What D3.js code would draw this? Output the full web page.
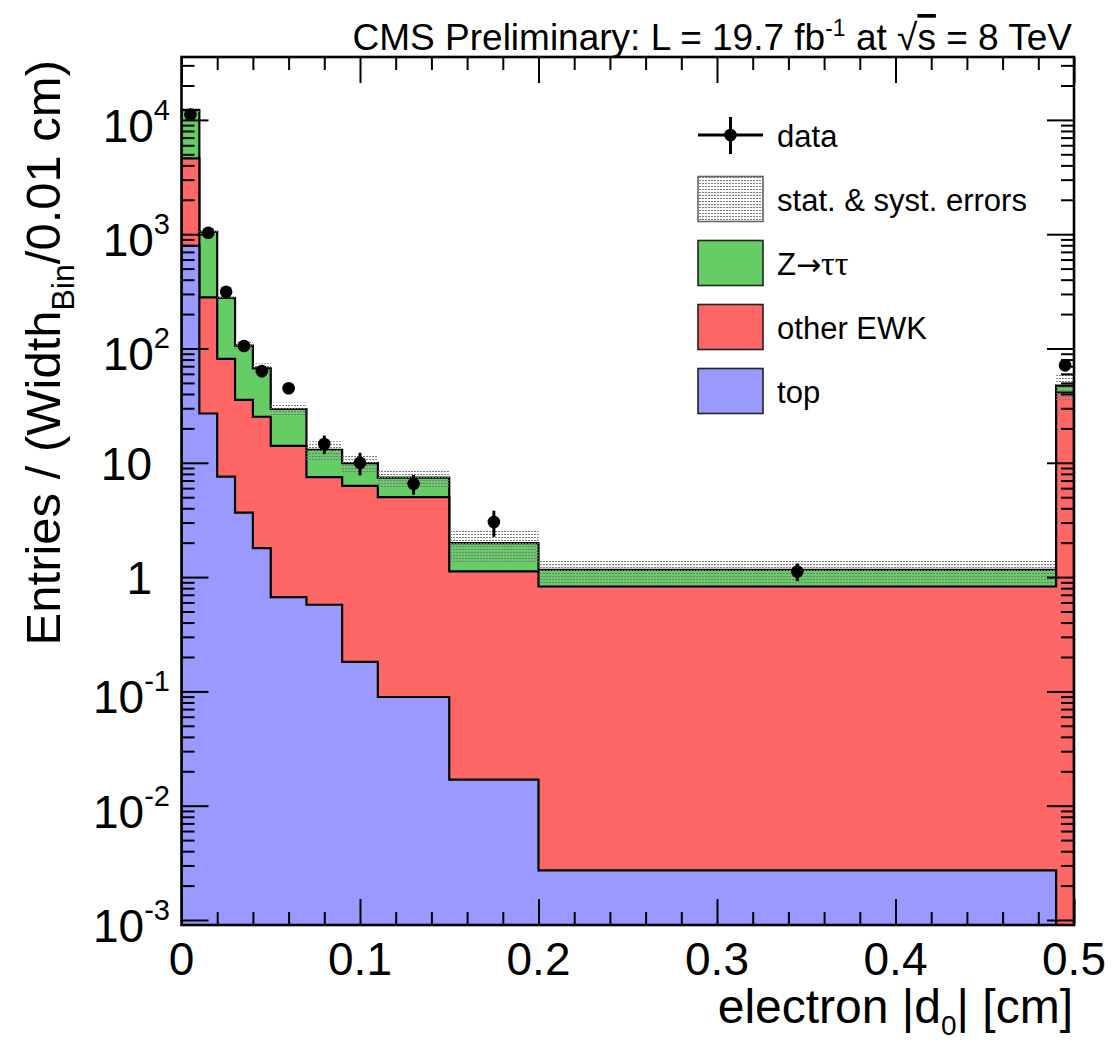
<!DOCTYPE html>
<html>
<head>
<meta charset="utf-8">
<script src="https://cdn.jsdelivr.net/npm/d3@7"></script>
<style>
  html, body { margin: 0; padding: 0; background: #fff; }
  svg { display: block; font-family: "Liberation Sans", Arial, Helvetica, sans-serif; }
</style>
</head>
<body>
<svg id="chart" width="1113" height="1043"></svg>
<script>
// Bin edges of the |d0| histogram (cm)
const binEdges = [0, 0.01, 0.02, 0.03, 0.04, 0.05, 0.07, 0.09, 0.11, 0.15, 0.2, 0.49, 0.5];

// Expected contributions per bin, entries / (bin width / 0.01 cm)
const topBkg   = [792, 27, 7.57, 3.67, 1.79, 0.668, 0.573, 0.181, 0.0893, 0.0169, 0.00272, 0];
const otherEWK = [3808, 253, 73.4, 31.8, 23.5, 13.39, 6.91, 6.10, 4.91, 1.103, 0.825, 41.1];
const zTauTau  = [7560, 770, 196, 70.5, 41.7, 15.5, 5.52, 3.64, 2.43, 0.86, 0.33, 6.2];

// Total uncertainty on the expectation (stat. & syst.)
const bkgError = [450, 40, 12, 8, 7, 4, 2.4, 1.7, 1.36, 0.65, 0.28, 12.5];

// Observed data and its uncertainty
const dataValues = [11150, 1030, 314, 105, 63.6, 44.9, 14.6, 10.0, 6.54, 3.03, 1.12, 71.3];
const dataErr    = [105, 32, 18, 10, 8, 4.7, 2.7, 2.24, 1.28, 0.78, 0.197, 8.4];

// Axis ticks
const xTickValues = [0, 0.1, 0.2, 0.3, 0.4, 0.5];
const xTickLabels = ["0", "0.1", "0.2", "0.3", "0.4", "0.5"];
const yTickValues = [1e-3, 1e-2, 1e-1, 1, 10, 100, 1000, 10000];
const yTickLabels = ["10^{-3}", "10^{-2}", "10^{-1}", "1", "10", "10^{2}", "10^{3}", "10^{4}"];

const seriesKeys   = ["top", "ewk", "ztt"];
const seriesNames  = { top: "top", ewk: "other EWK", ztt: "Z\u2192\u03c4\u03c4" };
const seriesColors = { top: "#9999ff", ewk: "#ff6666", ztt: "#66cc66" };

// ---------------------------------------------------------------------------
const svg = d3.select("#chart");
const plot = { x0: 181.5, x1: 1074, y0: 57, y1: 925 };

const x = d3.scaleLinear().domain([0, 0.5]).range([plot.x0, plot.x1]);
const y = d3.scaleLog().domain([9.04e-4, 35500]).range([plot.y1, plot.y0]).clamp(true);
const yv = v => (v > 0 ? y(v) : plot.y1);

const defs = svg.append("defs");
defs.append("clipPath").attr("id", "plotClip")
  .append("rect")
  .attr("x", plot.x0).attr("y", plot.y0)
  .attr("width", plot.x1 - plot.x0).attr("height", plot.y1 - plot.y0);

const dots = defs.append("pattern").attr("id", "dots")
  .attr("patternUnits", "userSpaceOnUse").attr("width", 3).attr("height", 3);
dots.append("rect").attr("x", 0).attr("y", 0).attr("width", 2).attr("height", 1).attr("fill", "#7a7a7a");

// Stacked expectation
const rows = binEdges.slice(0, -1).map((e, i) => ({ top: topBkg[i], ewk: otherEWK[i], ztt: zTauTau[i] }));
const stacked = d3.stack().keys(seriesKeys)(rows);
const nb = rows.length;

const line = d3.line();
function stepPath(series) {
  const pts = [[x(binEdges[0]), plot.y1]];
  series.forEach((d, i) => {
    const yy = yv(d[1]);
    pts.push([x(binEdges[i]), yy], [x(binEdges[i + 1]), yy]);
  });
  pts.push([x(binEdges[nb]), plot.y1]);
  return line(pts) + "Z";
}

const gPlot = svg.append("g").attr("clip-path", "url(#plotClip)");
stacked.slice().reverse().forEach(s => {
  gPlot.append("path")
    .attr("d", stepPath(s))
    .attr("fill", seriesColors[s.key])
    .attr("stroke", "#000")
    .attr("stroke-width", 2.2)
    .attr("stroke-linejoin", "miter");
});

// Uncertainty band around the total
const totals = stacked[stacked.length - 1].map(d => d[1]);
gPlot.selectAll("rect.band").data(totals).join("rect")
  .attr("class", "band")
  .attr("x", (d, i) => x(binEdges[i]))
  .attr("width", (d, i) => x(binEdges[i + 1]) - x(binEdges[i]))
  .attr("y", (d, i) => yv(d + bkgError[i]))
  .attr("height", (d, i) => yv(d - bkgError[i]) - yv(d + bkgError[i]))
  .attr("fill", "url(#dots)");

// Data points
const centers = binEdges.slice(0, -1).map((e, i) => (e + binEdges[i + 1]) / 2);
gPlot.selectAll("line.err").data(dataValues).join("line")
  .attr("class", "err")
  .attr("x1", (d, i) => x(centers[i])).attr("x2", (d, i) => x(centers[i]))
  .attr("y1", (d, i) => yv(d + dataErr[i])).attr("y2", (d, i) => yv(d - dataErr[i]))
  .attr("stroke", "#000").attr("stroke-width", 3);
gPlot.selectAll("circle.pt").data(dataValues).join("circle")
  .attr("class", "pt")
  .attr("cx", (d, i) => x(centers[i])).attr("cy", d => yv(d))
  .attr("r", 6.3).attr("fill", "#000");

// ---------------------------------------------------------------------------
// Axes: ticks on all four sides, pointing inward
const yMinor = [];
for (let e = -4; e <= 4; e++) for (let m = 2; m <= 9; m++) {
  const v = m * Math.pow(10, e);
  if (v >= y.domain()[0] && v <= y.domain()[1]) yMinor.push(v);
}
const xMinor = d3.range(0, 0.5001, 0.02).filter(v => Math.abs(v * 10 - Math.round(v * 10)) > 1e-6);

function tickAxis(gen, scale, values, size, transform) {
  const g = svg.append("g").attr("transform", transform)
    .call(gen(scale).tickValues(values).tickSize(size).tickFormat(""));
  g.select(".domain").remove();
  g.selectAll(".tick line").attr("stroke", "#000").attr("stroke-width", 2);
}
tickAxis(d3.axisRight, y, yTickValues, 27, `translate(${plot.x0},0)`);
tickAxis(d3.axisRight, y, yMinor, 13, `translate(${plot.x0},0)`);
tickAxis(d3.axisLeft, y, yTickValues, 27, `translate(${plot.x1},0)`);
tickAxis(d3.axisLeft, y, yMinor, 13, `translate(${plot.x1},0)`);
tickAxis(d3.axisTop, x, xTickValues, 26, `translate(0,${plot.y1})`);
tickAxis(d3.axisTop, x, xMinor, 13, `translate(0,${plot.y1})`);
tickAxis(d3.axisBottom, x, xTickValues, 26, `translate(0,${plot.y0})`);
tickAxis(d3.axisBottom, x, xMinor, 13, `translate(0,${plot.y0})`);

svg.append("rect")
  .attr("x", plot.x0).attr("y", plot.y0)
  .attr("width", plot.x1 - plot.x0).attr("height", plot.y1 - plot.y0)
  .attr("fill", "none").attr("stroke", "#000").attr("stroke-width", 2.6);

// Y tick labels
yTickValues.forEach((v, i) => {
  const lab = yTickLabels[i];
  const m = lab.match(/^(\d+)\^\{(.+)\}$/);
  const t = svg.append("text").attr("font-size", 46).attr("text-anchor", "end");
  if (m) {
    t.attr("x", 170).attr("y", y(v) + 22);
    t.append("tspan").text(m[1]);
    t.append("tspan").attr("font-size", 29).attr("dy", -22).text(m[2]);
  } else {
    t.attr("x", 152).attr("y", y(v) + 17).text(lab);
  }
});

// X tick labels
svg.selectAll("text.xl").data(xTickValues).join("text")
  .attr("class", "xl")
  .attr("x", d => x(d)).attr("y", 975)
  .attr("text-anchor", "middle").attr("font-size", 46)
  .text((d, i) => xTickLabels[i]);

// Axis titles
const xt = svg.append("text").attr("x", 1073).attr("y", 1023)
  .attr("text-anchor", "end").attr("font-size", 48);
xt.append("tspan").text("electron |d");
xt.append("tspan").attr("font-size", 28).attr("dy", 12).text("0");
xt.append("tspan").attr("dy", -12).text("| [cm]");

const yt = svg.append("text").attr("transform", "translate(60,60) rotate(-90)")
  .attr("text-anchor", "end").attr("font-size", 49);
yt.append("tspan").text("Entries / (Width");
yt.append("tspan").attr("font-size", 32).attr("dy", 14).text("Bin");
yt.append("tspan").attr("dy", -14).text("/0.01 cm)");

// Title
const tt = svg.append("text").attr("x", 1072).attr("y", 50)
  .attr("text-anchor", "end").attr("font-size", 37);
tt.append("tspan").text("CMS Preliminary: L = 19.7 fb");
tt.append("tspan").attr("font-size", 23).attr("dy", -14).text("-1");
tt.append("tspan").attr("dy", 14).text(" at \u221a");
tt.append("tspan").style("text-decoration", "overline").text("s");
tt.append("tspan").text(" = 8 TeV");

// ---------------------------------------------------------------------------
// Legend
const leg = { bx: 698, bw: 65, bh: 45, tx: 777, y0: 135, dy: 64 };
const legItems = [
  { type: "data", label: "data" },
  { type: "band", label: "stat. & syst. errors" },
  { type: "ztt", label: seriesNames.ztt },
  { type: "ewk", label: seriesNames.ewk },
  { type: "top", label: seriesNames.top }
];
// arrows and Greek letters use fonts with wider, serif glyphs
function glyphFont(ch) {
  if (ch === "\u2192") return "DejaVu Sans";
  if (/[\u0370-\u03ff]/.test(ch)) return "Liberation Serif";
  return null;
}
legItems.forEach((it, i) => {
  const cy = leg.y0 + i * leg.dy;
  const g = svg.append("g");
  if (it.type === "data") {
    g.append("line").attr("x1", leg.bx).attr("x2", leg.bx + leg.bw).attr("y1", cy).attr("y2", cy)
      .attr("stroke", "#000").attr("stroke-width", 3);
    g.append("line").attr("x1", leg.bx + leg.bw / 2).attr("x2", leg.bx + leg.bw / 2)
      .attr("y1", cy - 18).attr("y2", cy + 19).attr("stroke", "#000").attr("stroke-width", 3);
    g.append("circle").attr("cx", leg.bx + leg.bw / 2).attr("cy", cy).attr("r", 6.3).attr("fill", "#000");
  } else {
    g.append("rect").attr("x", leg.bx).attr("y", cy - leg.bh / 2)
      .attr("width", leg.bw).attr("height", leg.bh)
      .attr("fill", it.type === "band" ? "url(#dots)" : seriesColors[it.type])
      .attr("stroke", it.type === "band" ? "#666" : "#222").attr("stroke-width", 1.6);
  }
  const t = g.append("text").attr("x", leg.tx).attr("y", cy + 11.5).attr("font-size", 31);
  Array.from(it.label).forEach(ch => {
    const f = glyphFont(ch);
    const s = t.append("tspan").text(ch);
    if (f) s.attr("font-family", f).attr("font-size", ch === "\u2192" ? 30 : 34);
  });
});
</script>
</body>
</html>
